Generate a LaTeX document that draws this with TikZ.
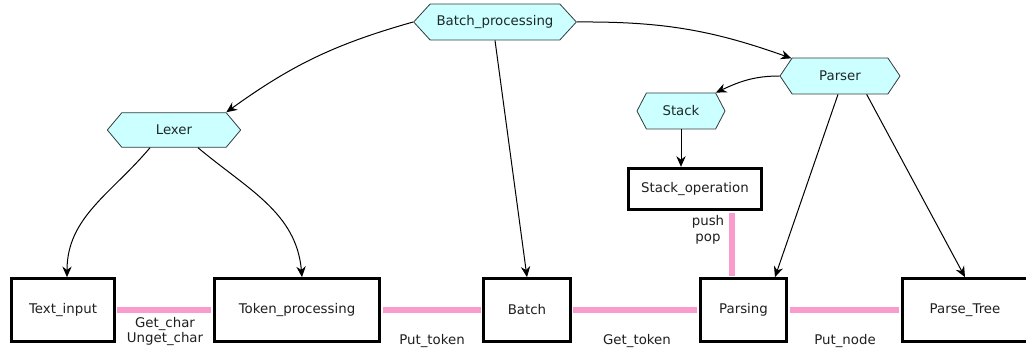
\documentclass[tikz,border=0pt]{standalone}
\usepackage{fontspec}
\setmainfont{DejaVu Sans}
\usetikzlibrary{shapes.symbols,arrows.meta}

\tikzset{every picture/.style={line width=0.75pt}}
\tikzset{
	module/.style={signal, signal to=west and east, signal pointer angle=100, draw={rgb, 255:red, 50; green, 60; blue, 60 }, line width=0.6pt, fill={rgb, 255:red, 204; green, 255; blue, 255 }, inner sep=0pt, text={rgb, 255:red, 30; green, 40; blue, 40 }},
	unit/.style={draw, line width=2.25pt, inner sep=0pt, minimum height=47pt, text={rgb, 255:red, 30; green, 30; blue, 30 }},
	uses/.style={-{Stealth[length=8pt,width=7pt]}, line width=0.75pt},
	flow/.style={draw={rgb, 255:red, 250; green, 155; blue, 205 }, line width=4.5pt, shorten <=1.1pt, shorten >=1.1pt},
	flowlabel/.style={align=center, inner sep=0pt, font=\fontsize{10}{11.25}\selectfont, text={rgb, 255:red, 30; green, 30; blue, 30 }}
}

\begin{document}
\begin{tikzpicture}[x=0.75pt,y=0.75pt,yscale=-1,xscale=1,font=\fontsize{10}{12}\selectfont]
	\useasboundingbox (0,0) rectangle (1026,349);
	\clip (0,0) rectangle (1026,349);

	%Shape: Hexagon
	\node [module, minimum width=122pt, minimum height=27pt, signal pointer angle=95] (Batch_processing) at (495,22) {Batch\_processing};
	%Shape: Hexagon
	\node [module, minimum width=100pt, minimum height=26pt] (Lexer) at (174,130) {Lexer};
	%Shape: Hexagon
	\node [module, minimum width=90pt, minimum height=27pt, signal pointer angle=112] (Parser) at (840,76) {Parser};
	%Shape: Hexagon
	\node [module, minimum width=66pt, minimum height=27pt, signal pointer angle=125] (Stack) at (681,111) {Stack};

	%Shape: Rectangle
	\node [unit, minimum width=100pt, minimum height=31pt] (Stack_operation) at (695,189) {Stack\_operation};
	%Shape: Rectangle
	\node [unit, minimum width=77pt] (Text_input) at (63,310) {Text\_input};
	%Shape: Rectangle
	\node [unit, minimum width=124pt] (Token_processing) at (297,310) {Token\_processing};
	%Shape: Rectangle
	\node [unit, minimum width=65pt] (Batch) at (527,310) {Batch};
	%Shape: Rectangle
	\node [unit, minimum width=65pt] (Parsing) at (743.5,310) {Parsing};
	%Shape: Rectangle
	\node [unit, minimum width=94pt] (Parse_Tree) at (965,310) {Parse\_Tree};

	%Curve Lines
	\draw [uses] (Batch_processing.west) to[bend left=10] (Lexer.north east);
	\draw [uses] (Batch_processing.east) to[bend right=10] (Parser.160);
	%Straight Lines
	\draw [uses] (Batch_processing.south) -- (Batch.north);
	%Curve Lines
	\draw [uses] ([xshift=-18pt]Lexer.south) to[out=130,in=-90] ([xshift=3pt]Text_input.north);
	\draw [uses] ([xshift=18pt]Lexer.south) to[out=40,in=-95] ([xshift=3.75pt]Token_processing.north);
	\draw [uses] (Parser.west) to[out=180,in=-25] (Stack.north east);
	%Straight Lines
	\draw [uses] (Stack.south) -- (Stack.south |- Stack_operation.north);
	\draw [uses] ([xshift=-1.5pt]Parser.south) -- ([xshift=23.6pt]Parsing.north);
	\draw [uses] ([xshift=20pt]Parser.south) -- (Parse_Tree.north);

	%Pink Lines
	\draw [flow] (Text_input) -- (Token_processing);
	\draw [flow] (Token_processing) -- (Batch);
	\draw [flow] (Batch) -- (Parsing);
	\draw [flow] (Parsing) -- (Parse_Tree);
	\draw [flow] ([xshift=27.75pt]Stack_operation.south) -- ([xshift=27.75pt]Stack_operation.south |- Parsing.north);

	% Text Node
	\node [flowlabel] (get_char) at (165,332) {Get\_char\\Unget\_char};
	% Text Node
	\node [flowlabel] (put_token) at (432,341) {Put\_token};
	% Text Node
	\node [flowlabel] (get_token) at (637,341) {Get\_token};
	% Text Node
	\node [flowlabel] (put_node) at (845,341) {Put\_node};
	% Text Node
	\node [flowlabel, font=\fontsize{10}{12}\selectfont] (push_pop) at (708,230) {push\\pop};

\end{tikzpicture}
\end{document}
